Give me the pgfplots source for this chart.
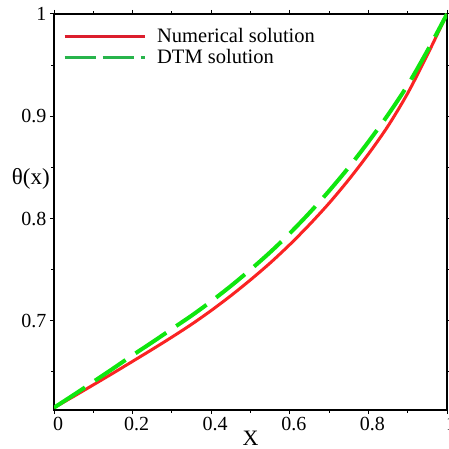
\documentclass[border=0pt]{standalone}
\usepackage{fontspec}
\setmainfont{Liberation Serif}
\usepackage{pgfplots}
\pgfplotsset{compat=1.18}
\definecolor{curvered}{RGB}{250,35,35}
\definecolor{legred}{RGB}{220,30,45}
\definecolor{curvegreen}{RGB}{15,230,15}
\definecolor{leggreen}{RGB}{40,180,75}
\begin{document}
\begin{tikzpicture}
\begin{axis}[
  scale only axis, width=393bp, height=396bp,
  xmin=0, xmax=1, ymin=0.6127, ymax=1,
  xtick={0,0.2,0.4,0.6,0.8,1},
  ytick={0.7,0.8,0.9,1},
  minor xtick={0.1,0.3,0.5,0.7,0.9},
  minor ytick={0.65,0.75,0.85,0.95},
  tick align=outside,
  major tick length=4bp, minor tick length=2.5bp,
  every tick/.style={black, line width=1bp},
  axis line style={line width=2.2bp},
  /pgf/number format/assume math mode=true,
  ticklabel style={font=\fontsize{20bp}{22bp}\selectfont},
  xticklabel style={xshift=4bp},
  xlabel={X},
  every axis x label/.style={at={(axis description cs:0.5,0)}, anchor=north, inner sep=0pt, yshift=-21bp, font=\fontsize{22bp}{24bp}\selectfont},
  ylabel={θ(x)},
  every axis y label/.style={at={(axis description cs:0,0.584)}, anchor=east, inner sep=0pt, xshift=-4bp, font=\fontsize{23bp}{25bp}\selectfont},
  legend cell align=left,
  legend style={draw=none, fill=none, at={(axis description cs:0,1)}, anchor=north west, xshift=6bp, yshift=-10bp, font=\fontsize{20.5bp}{22bp}\selectfont, row sep=1.5bp, column sep=9bp},
  legend image code/.code={\draw[#1] (0bp,0bp) -- (80bp,0bp);},
]
\addlegendimage{legred, line width=3bp}
\addlegendentry{Numerical solution}
\addlegendimage{leggreen, line width=3bp, dash pattern=on 31bp off 7bp}
\addlegendentry{DTM solution}
\addplot[curvered, line width=3bp, smooth, forget plot] coordinates {
(0,0.615) (0.05,0.626) (0.1,0.6373) (0.15,0.6487) (0.2,0.6603) (0.25,0.672)
(0.3,0.684) (0.35,0.6965) (0.4,0.71) (0.45,0.7245) (0.5,0.74) (0.55,0.7565)
(0.6,0.7745) (0.65,0.794) (0.7,0.815) (0.75,0.838) (0.8,0.863) (0.85,0.8905)
(0.9,0.9225) (0.95,0.960) (1,1.0)};
\addplot[curvegreen, line width=4bp, smooth, dash pattern=on 37bp off 12bp, forget plot] coordinates {
(0,0.615) (0.05,0.6275) (0.1,0.6403) (0.15,0.6532) (0.2,0.6663) (0.25,0.679)
(0.3,0.692) (0.35,0.705) (0.4,0.719) (0.45,0.734) (0.5,0.750) (0.55,0.767)
(0.6,0.7855) (0.65,0.8055) (0.7,0.827) (0.75,0.850) (0.8,0.875) (0.85,0.9015)
(0.9,0.9305) (0.95,0.964) (1,1.0)};
\end{axis}
\pgfresetboundingbox
\path ([shift={(-54bp,-38bp)}]current axis.south west) rectangle ([shift={(2bp,14bp)}]current axis.north east);
\end{tikzpicture}
\end{document}
